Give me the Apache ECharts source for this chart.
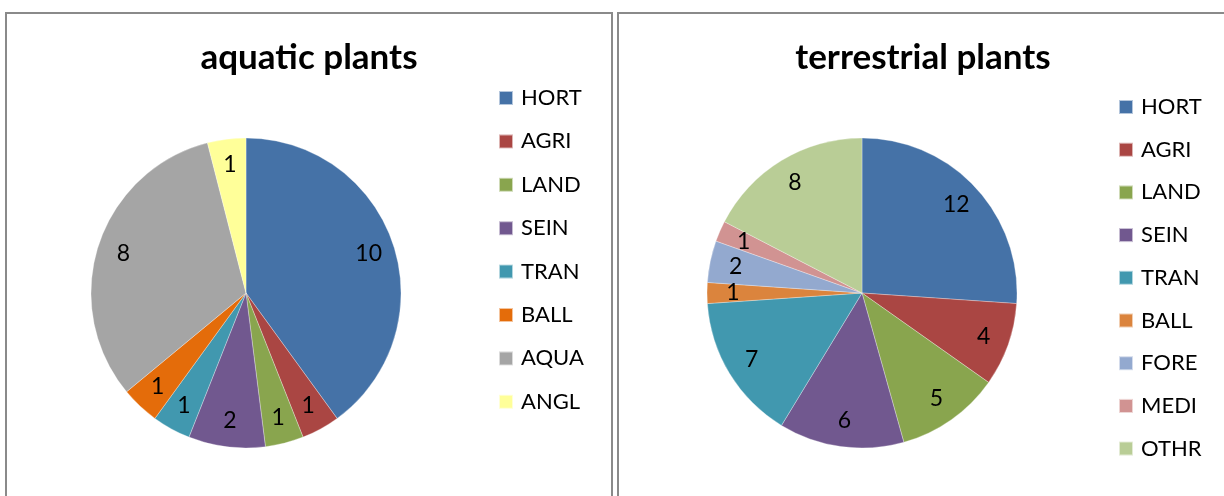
<!DOCTYPE html>
<html>
<head>
<meta charset="utf-8">
<script src="https://cdn.jsdelivr.net/npm/echarts@6/dist/echarts.min.js"></script>
<style>
  html, body { margin: 0; padding: 0; background: #fff; overflow: hidden; }
  body { width: 1224px; height: 496px; position: relative; }
  .panel {
    position: absolute;
    top: 12px;
    height: 500px;
    border: 2px solid #8a8a8a;
    box-sizing: border-box;
    background: #fff;
  }
  #left_panel { left: 5px; width: 608px; }
  #right_panel { left: 617px; width: 614px; }
  .chart { width: 100%; height: 100%; }
</style>
</head>
<body>
<div class="panel" id="left_panel"><div class="chart" id="aquatic_pie"></div></div>
<div class="panel" id="right_panel"><div class="chart" id="terrestrial_pie"></div></div>

<script>
  // aquatic plants
  var aquaticNames = ['HORT', 'AGRI', 'LAND', 'SEIN', 'TRAN', 'BALL', 'AQUA', 'ANGL']
  var aquaticValues = [10, 1, 1, 2, 1, 1, 8, 1]
  var aquaticColors = ['#4572a7', '#aa4643', '#89a54e', '#71588f', '#4198af', '#e46c0a', '#a5a5a5', '#ffff99']

  // terrestrial plants
  var terrNames = ['HORT', 'AGRI', 'LAND', 'SEIN', 'TRAN', 'BALL', 'FORE', 'MEDI', 'OTHR']
  var terrValues = [12, 4, 5, 6, 7, 1, 2, 1, 8]
  var terrColors = ['#4572a7', '#aa4643', '#89a54e', '#71588f', '#4198af', '#db843d', '#93a9cf', '#d19392', '#b9cd96']

  function makePie(domId, title, names, values, colors, opts) {
    var myChart = echarts.init(document.getElementById(domId))
    var data = names.map(function (n, i) {
      return { name: n, value: values[i], itemStyle: { color: colors[i] } }
    })
    var option = {
      animation: false,
      title: {
        text: title,
        left: opts.titleX,
        top: 26,
        padding: 0,
        textAlign: 'center',
        textStyle: { fontFamily: 'Lato', fontWeight: 'bold', fontSize: 35, lineHeight: 36, color: '#000' }
      },
      legend: {
        orient: 'vertical',
        left: opts.legendX,
        top: opts.legendY,
        padding: 0,
        icon: 'rect',
        itemWidth: 14,
        itemHeight: 14,
        itemGap: opts.legendGap,
        data: names,
        textStyle: { fontFamily: 'Lato', fontSize: 22, lineHeight: 20, color: '#000', padding: [0, 0, 0, 3] }
      },
      series: [
        {
          type: 'pie',
          center: opts.center,
          radius: [0, 155],
          startAngle: 90,
          clockwise: true,
          label: { show: false },
          labelLine: { show: false },
          itemStyle: { borderColor: 'rgba(255,255,255,0.6)', borderWidth: 0.5 },
          data: data
        },
        {
          // transparent ring only used to place the value labels
          type: 'pie',
          silent: true,
          center: opts.center,
          radius: [100, 152],
          startAngle: 90,
          clockwise: true,
          itemStyle: { color: 'rgba(0,0,0,0)' },
          label: {
            show: true,
            position: 'inside',
            formatter: '{c}',
            fontFamily: 'Lato',
            fontSize: 23,
            color: '#000'
          },
          labelLine: { show: false },
          data: names.map(function (n, i) { return { name: n, value: values[i] } })
        }
      ]
    }
    option && myChart.setOption(option)
  }

  makePie('aquatic_pie', 'aquatic plants', aquaticNames, aquaticValues, aquaticColors,
    { center: [239, 279], titleX: 302, legendX: 491, legendY: 73, legendGap: 21.4 })
  makePie('terrestrial_pie', 'terrestrial plants', terrNames, terrValues, terrColors,
    { center: [243, 279], titleX: 304, legendX: 499, legendY: 82, legendGap: 20.7 })
</script>
</body>
</html>
